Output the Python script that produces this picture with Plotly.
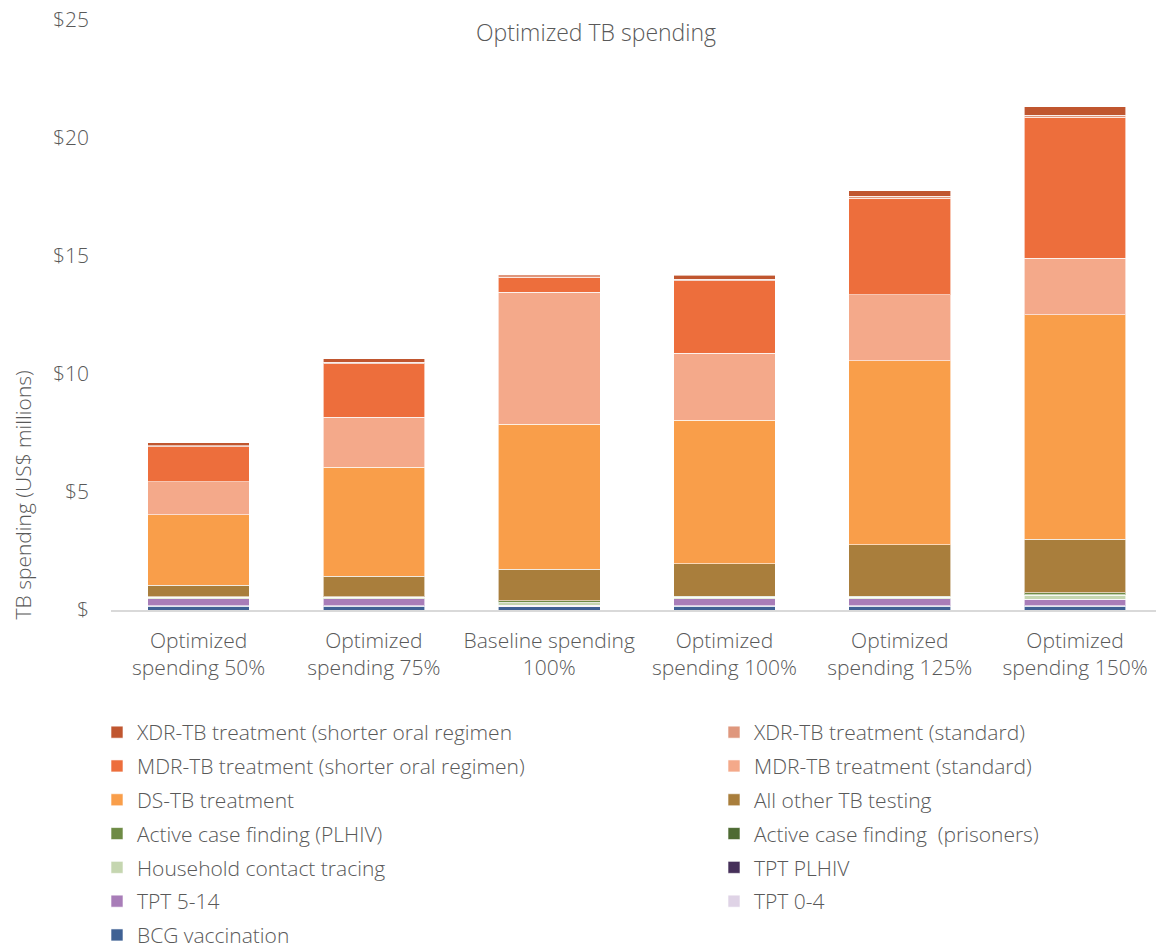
import plotly.graph_objects as go

# Scenario categories (x axis)
categories = [
    "Optimized<br>spending 50%",
    "Optimized<br>spending 75%",
    "Baseline spending<br>100%",
    "Optimized<br>spending 100%",
    "Optimized<br>spending 125%",
    "Optimized<br>spending 150%",
]

# Spending by intervention, US$ millions (one value per scenario)
bcg_vaccination = [0.15, 0.15, 0.14, 0.15, 0.15, 0.15]
tpt_0_4 = [0.04, 0.04, 0.02, 0.04, 0.04, 0.04]
tpt_5_14 = [0.28, 0.28, 0.04, 0.29, 0.29, 0.26]
tpt_plhiv = [0.0, 0.0, 0.0, 0.0, 0.0, 0.0]
household_tracing = [0.06, 0.06, 0.10, 0.06, 0.06, 0.17]
acf_prisoners = [0.0, 0.0, 0.02, 0.0, 0.0, 0.02]
acf_plhiv = [0.04, 0.04, 0.08, 0.04, 0.04, 0.09]
other_testing = [0.47, 0.86, 1.33, 1.38, 2.18, 2.26]
ds_tb = [2.99, 4.62, 6.14, 6.08, 7.80, 9.52]
mdr_standard = [1.41, 2.11, 5.60, 2.84, 2.80, 2.40]
mdr_shorter = [1.47, 2.28, 0.63, 3.07, 4.09, 5.97]
xdr_standard = [0.06, 0.06, 0.10, 0.07, 0.08, 0.09]
xdr_shorter = [0.11, 0.14, 0.0, 0.17, 0.23, 0.36]

# Y axis ticks
y_tickvals = [0, 5, 10, 15, 20, 25]
y_ticktext = ["$", "$5", "$10", "$15", "$20", "$25"]

# (name, values, colour, legend) in stacking order, bottom to top
series = [
    ("BCG vaccination", bcg_vaccination, "#3F6194", "legend"),
    ("TPT 0-4", tpt_0_4, "#DFD3E6", "legend2"),
    ("TPT 5-14", tpt_5_14, "#A87DB8", "legend"),
    ("TPT PLHIV", tpt_plhiv, "#46305A", "legend2"),
    ("Household contact tracing", household_tracing, "#C5D6B0", "legend"),
    ("Active case finding  (prisoners)", acf_prisoners, "#4E6B33", "legend2"),
    ("Active case finding (PLHIV)", acf_plhiv, "#6E8B45", "legend"),
    ("All other TB testing", other_testing, "#A97E3C", "legend2"),
    ("DS-TB treatment", ds_tb, "#F99E4A", "legend"),
    ("MDR-TB treatment (standard)", mdr_standard, "#F4A98A", "legend2"),
    ("MDR-TB treatment (shorter oral regimen)", mdr_shorter, "#ED6E3C", "legend"),
    ("XDR-TB treatment (standard)", xdr_standard, "#DF977D", "legend2"),
    ("XDR-TB treatment (shorter oral regimen", xdr_shorter, "#C0562F", "legend"),
]

FONT = "Open Sans"
GREY = "#595959"
FS = 21
W, H = 1156, 950
L, T, B = 111, 20, 340

fig = go.Figure()
n = len(series)
for i, (name, vals, color, leg) in enumerate(series):
    fig.add_trace(go.Bar(
        x=categories,
        y=vals,
        name=name,
        legend=leg,
        legendgroup=name,
        legendrank=n - i,  # top of the stack listed first
        marker=dict(color=color, line=dict(color="rgba(255,255,255,0.6)", width=1)),
    ))

legend_common = dict(
    orientation="v",
    traceorder="grouped",
    tracegroupgap=3.5,
    xref="container",
    yref="container",
    yanchor="top",
    xanchor="left",
    bgcolor="rgba(0,0,0,0)",
    font=dict(family=FONT, size=FS, color=GREY, weight=300),
)

fig.update_layout(
    width=W,
    height=H,
    barmode="stack",
    bargap=0.42,
    plot_bgcolor="white",
    paper_bgcolor="white",
    margin=dict(l=L, r=0, t=T, b=B, autoexpand=False),
    font=dict(family=FONT, size=FS, color=GREY, weight=300),
    title=dict(
        text="Optimized TB spending",
        x=596 / W,
        xanchor="center",
        y=1 - 33 / H,
        yanchor="middle",
        font=dict(family=FONT, size=23, color=GREY, weight=300),
    ),
    xaxis=dict(
        showline=True,
        linecolor="#D9D9D9",
        linewidth=1.5,
        showgrid=False,
        ticks="",
        tickangle=0,
        range=[-0.5, 5.462],
        ticklabelstandoff=11,
        tickfont=dict(family=FONT, size=FS, color=GREY, weight=300),
    ),
    yaxis=dict(
        range=[0, 25],
        tickvals=y_tickvals,
        ticktext=y_ticktext,
        showgrid=False,
        zeroline=False,
        showline=False,
        ticks="",
        ticklabelstandoff=21,
        tickfont=dict(family=FONT, size=FS, color=GREY, weight=300),
    ),
    legend=dict(legend_common, x=97 / W, y=1 - 712 / H),
    legend2=dict(legend_common, x=714 / W, y=1 - 712 / H),
    annotations=[
        dict(
            text="TB spending (US$ millions)",
            textangle=-90,
            xref="paper",
            yref="paper",
            x=(22 - L) / (W - L),
            y=(609.5 - 495) / (H - T - B),
            xanchor="center",
            yanchor="middle",
            showarrow=False,
            font=dict(family=FONT, size=FS, color=GREY, weight=300),
        )
    ],
)

fig.write_html("out.html")
